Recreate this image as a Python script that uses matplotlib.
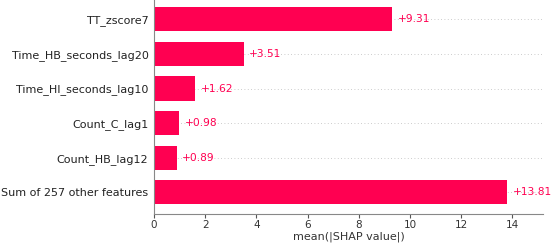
import matplotlib
matplotlib.use("Agg")
import matplotlib.pyplot as plt
import numpy as np

features = ["TT_zscore7", "Time_HB_seconds_lag20", "Time_HI_seconds_lag10",
            "Count_C_lag1", "Count_HB_lag12", "Sum of 257 other features"]
values = [9.31, 3.51, 1.62, 0.98, 0.89, 13.81]
xticks = [0, 2, 4, 6, 8, 10, 12, 14]

RED = "#ff0051"

fig = plt.figure(figsize=(5.51, 2.45), dpi=100)
ax = fig.add_axes([0.2795, 0.1265, 0.706, 0.8735])

y_pos = np.arange(len(features))[::-1]
for y in y_pos:
    ax.axhline(y, color="#bbbbbb", lw=0.6, dashes=(1, 3), zorder=-1)
ax.barh(y_pos, values, height=0.7, color=RED, align="center", zorder=2)
for y, v in zip(y_pos, values):
    ax.annotate(f"+{v:.2f}", xy=(v, y), xytext=(4, 0), textcoords="offset points",
                ha="left", va="center", color=RED, fontsize=7.7)

ax.set_yticks(y_pos)
ax.set_yticklabels(features, fontsize=8.0, color="#222222")
ax.tick_params(axis="y", length=0, pad=4)
ax.set_xticks(xticks)
ax.tick_params(axis="x", labelsize=7.5, length=3, pad=1.5,
               color="#555555", labelcolor="#333333")
ax.set_xlim(0, 15.2)
ax.set_ylim(-0.63, 5.56)
ax.set_xlabel("mean(|SHAP value|)", fontsize=8, color="#333333", labelpad=1)
for s in ("top", "right"):
    ax.spines[s].set_visible(False)
for s in ("left", "bottom"):
    ax.spines[s].set_color("#888888")

fig.savefig("out.png", dpi=100)
